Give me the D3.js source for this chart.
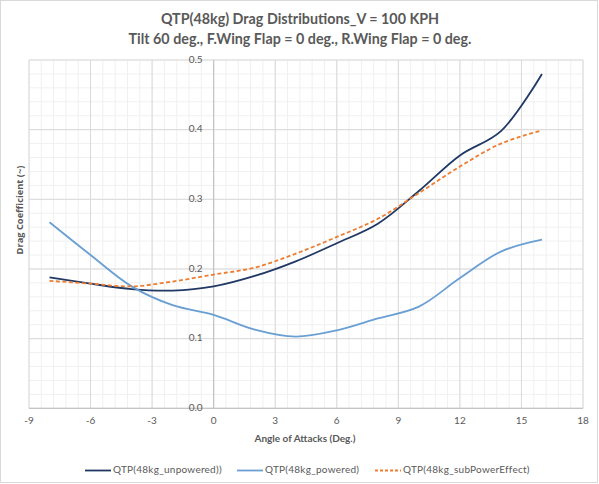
<!DOCTYPE html>
<html><head><meta charset="utf-8">
<script src="https://cdn.jsdelivr.net/npm/d3@7"></script>
<style>
body{margin:0;background:#fff;}
text{font-family:"Lato","Open Sans",sans-serif;fill:#595959;}
</style></head>
<body><svg id="c" width="599" height="484"></svg>
<script>
const titleLines = ["QTP(48kg) Drag Distributions_V = 100 KPH", "Tilt 60 deg., F.Wing Flap = 0 deg., R.Wing Flap = 0 deg."];
const xLabel = "Angle of Attacks (Deg.)";
const yLabel = "Drag Coefficient (~)";
const angles = [-8,-6,-4,-2,0,2,4,6,8,10,12,14,16];
const unpowered = [0.188,0.179,0.171,0.169,0.175,0.190,0.211,0.237,0.265,0.312,0.363,0.398,0.480];
const powered = [0.267,0.220,0.175,0.148,0.134,0.113,0.103,0.112,0.129,0.146,0.187,0.225,0.242];
const subPower = [0.183,0.179,0.175,0.182,0.192,0.202,0.222,0.246,0.272,0.309,0.347,0.380,0.399];
const seriesNames = ["QTP(48kg_unpowered))","QTP(48kg_powered)","QTP(48kg_subPowerEffect)"];
const xTicks = [-9,-6,-3,0,3,6,9,12,15,18];
const yTicks = [0.0,0.1,0.2,0.3,0.4,0.5];

const svg = d3.select("#c");
svg.append("rect").attr("x",0.5).attr("y",0.5).attr("width",597).attr("height",482)
  .attr("fill","#fff").attr("stroke","#d9d9d9");

const x = d3.scaleLinear().domain([-9,18]).range([29,583]);
const y = d3.scaleLinear().domain([0,0.5]).range([408.3,60]);

// minor grid
const g = svg.append("g");
const xMinor = d3.range(-9,18.001,0.6), yMinor = d3.range(0,0.5001,0.02);
g.selectAll(".mx").data(xMinor).enter().append("line")
  .attr("x1",d=>x(d)).attr("x2",d=>x(d)).attr("y1",y(0)).attr("y2",y(0.5))
  .attr("stroke","#f0f0f0").attr("stroke-width",1);
g.selectAll(".my").data(yMinor).enter().append("line")
  .attr("x1",x(-9)).attr("x2",x(18)).attr("y1",d=>y(d)).attr("y2",d=>y(d))
  .attr("stroke","#f0f0f0").attr("stroke-width",1);
// major grid
g.selectAll(".Mx").data(xTicks).enter().append("line")
  .attr("x1",d=>x(d)).attr("x2",d=>x(d)).attr("y1",y(0)).attr("y2",y(0.5))
  .attr("stroke","#d9d9d9").attr("stroke-width",1);
g.selectAll(".My").data(yTicks).enter().append("line")
  .attr("x1",x(-9)).attr("x2",x(18)).attr("y1",d=>y(d)).attr("y2",d=>y(d))
  .attr("stroke","#d9d9d9").attr("stroke-width",1);
// axis lines
svg.append("line").attr("x1",x(-9)).attr("x2",x(18)).attr("y1",y(0)).attr("y2",y(0)).attr("stroke","#bfbfbf");
svg.append("line").attr("x1",x(0)).attr("x2",x(0)).attr("y1",y(0)).attr("y2",y(0.5)).attr("stroke","#bfbfbf");

// tick labels
svg.selectAll(".xt").data(xTicks).enter().append("text")
  .attr("x",d=>x(d)).attr("y",y(0)+13.5).attr("text-anchor","middle")
  .attr("dominant-baseline","middle").attr("font-size",10).text(d=>d);
svg.selectAll(".yt").data(yTicks).enter().append("text")
  .attr("x",x(0)-11).attr("y",d=>y(d)).attr("text-anchor","end")
  .attr("dominant-baseline","middle").attr("font-size",10).text(d=>d.toFixed(1));

// titles
svg.selectAll(".tt").data(titleLines).enter().append("text")
  .attr("x",300).attr("y",(d,i)=>20+i*20).attr("text-anchor","middle")
  .attr("dominant-baseline","middle").attr("font-size",14.3).attr("font-weight","bold").text(d=>d);
svg.append("text").attr("x",305).attr("y",439).attr("text-anchor","middle")
  .attr("dominant-baseline","middle").attr("font-size",10).attr("font-weight","bold").text(xLabel);
svg.append("text").attr("transform","translate(21,210) rotate(-90)").attr("text-anchor","middle")
  .attr("dominant-baseline","middle").attr("font-size",10).attr("font-weight","bold")
  .style("font-family","'Open Sans',sans-serif").attr("font-size",9.3).text(yLabel);

// lines
const colors = ["#203864","#6a9fd4","#ed7d31"];
const dashes = [null,null,"4,2.5"];
const data = [unpowered,powered,subPower];
const line = d3.line().x(d=>x(d[0])).y(d=>y(d[1])).curve(d3.curveCatmullRom.alpha(0.5));
data.forEach((vals,i)=>{
  svg.append("path").datum(angles.map((a,j)=>[a,vals[j]]))
    .attr("d",line).attr("fill","none").attr("stroke",colors[i])
    .attr("stroke-width",1.8).attr("stroke-dasharray",dashes[i]).attr("stroke-linecap","butt");
});

// legend
const legX = [85,237,375], legY = 470.5;
seriesNames.forEach((n,i)=>{
  svg.append("line").attr("x1",legX[i]).attr("x2",legX[i]+26).attr("y1",legY).attr("y2",legY)
    .attr("stroke",colors[i]).attr("stroke-width",1.8).attr("stroke-dasharray",i==2?"3,2":null);
  svg.append("text").attr("x",legX[i]+28).attr("y",legY).attr("dominant-baseline","middle")
    .attr("font-size",10).attr("letter-spacing",0.25).text(n);
});
</script></body></html>
